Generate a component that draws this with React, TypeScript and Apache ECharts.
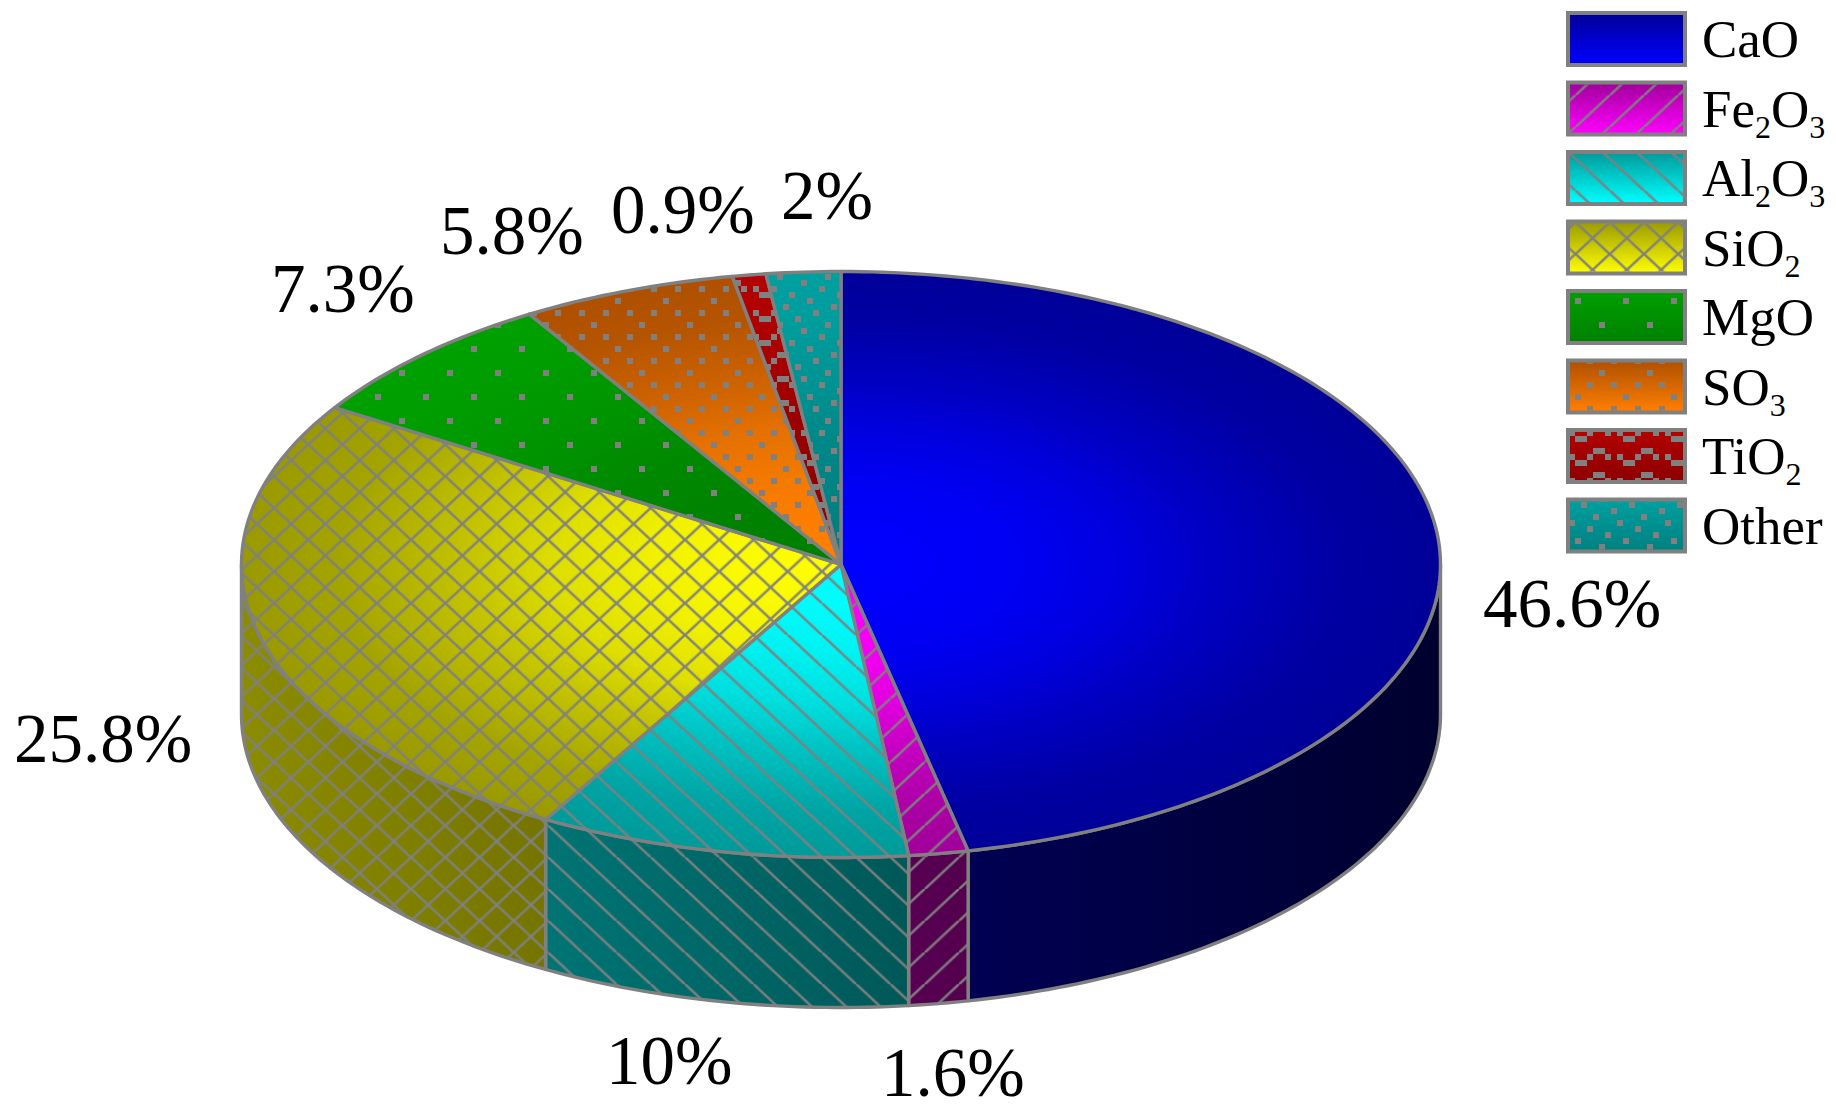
import React, { useEffect, useRef } from "react";
import * as echarts from "echarts";

const CATEGORIES = ["CaO", "Fe2O3", "Al2O3", "SiO2", "MgO", "SO3", "TiO2", "Other"];
const VALUES = [46.6, 1.6, 10, 25.8, 7.3, 5.8, 0.9, 2];
const RICH_NAMES = ["{m|CaO}", "{m|Fe}{s|2}{m|O}{s|3}", "{m|Al}{s|2}{m|O}{s|3}", "{m|SiO}{s|2}", "{m|MgO}", "{m|SO}{s|3}", "{m|TiO}{s|2}", "{m|Other}"];
const CENTER_COLORS = ["#0000ff", "#ff00ff", "#00ffff", "#ffff00", "#008000", "#ff8000", "#8c0000", "#008080"];
const EDGE_COLORS = ["#000098", "#a0009a", "#009a9a", "#9a9a00", "#00a000", "#ae5000", "#b40000", "#00a0a0"];
const SIDE_LEFT = ["#00008c", "#8c0088", "#008c8c", "#8c8c00", "#006000", "#804000", "#600000", "#005050"];
const SIDE_RIGHT = ["#00002e", "#2e0028", "#002e2e", "#2e2e00", "#004000", "#603000", "#400000", "#003c3c"];
const PATTERNS = ["none", "fwd", "back", "cross", "sparse", "medium", "tio", "dense"];

const W = 1836, H = 1117;
const CX = 841, CY = 564.5, RX = 599.5, RY = 293, DEPTH = 150;
const GRAY = "#808080";
const FONT = '"Liberation Serif", "Times New Roman", serif';
const LABEL_SIZE = 69;
const LABEL_ANCHORS: [number, number][] = [
  [1483, 626], [881, 1095], [606, 1083], [14, 761], [271, 311], [440, 253], [611, 232], [781, 218],
];
const LEG_X = 1568, LEG_Y = 13, LEG_W = 117, LEG_H = 52, LEG_STEP = 69.5;
const FADE_STOPS: [number, number][] = [[0, 1], [0.15, 0.96], [0.3, 0.87], [0.47, 0.68], [0.62, 0.42], [0.84, 0.1], [1, 0]];
const PIE_OFFSETS: [number, number][] = [[0, 0], [13.8, 0], [4.6, 0], [3, 24.5], [0, 0], [0, 0], [0, 0], [0, 0]];
const SWATCH_OFFSETS: [number, number][] = [[0, 0], [11, 0], [32.2, 0], [7.9, 15.4], [0, 0], [0, 0], [0, 0], [0, 0]];

const HW = 34.25, HH = 31.75, SS = 4;
function makeTile(kind: string) {
  const c = document.createElement("canvas");
  const hatch = kind === "fwd" || kind === "back" || kind === "cross";
  const w = hatch ? HW : 48;
  const h = hatch ? HH : kind === "tio" ? 24 : 48;
  const s = hatch ? SS : 1;
  c.width = w * s; c.height = h * s;
  const g = c.getContext("2d")!;
  g.scale(s, s);
  g.strokeStyle = GRAY; g.fillStyle = GRAY; g.lineWidth = 2.4;
  const seg = (x1: number, y1: number, x2: number, y2: number) => {
    for (const dx of [-w, 0, w]) {
      g.beginPath(); g.moveTo(x1 + dx, y1); g.lineTo(x2 + dx, y2); g.stroke();
    }
  };
  const dot = (x: number, y: number, dw = 6, dh = 6) => {
    for (const dx of [-w, 0, w]) for (const dy of [-h, 0, h]) g.fillRect(x - dw / 2 + dx, y - dh / 2 + dy, dw, dh);
  };
  if (kind === "fwd" || kind === "cross") seg(0, h, w, 0);
  if (kind === "back" || kind === "cross") seg(0, 0, w, h);
  if (kind === "sparse") { dot(18, 37); dot(42, 13); }
  if (kind === "medium") {
    dot(6, 25); dot(30, 25); dot(18, 37); dot(6, 1); dot(30, 1); dot(42, 13);
  }
  if (kind === "tio") {
    dot(36, 1); dot(6, 1); dot(24, 1); dot(45, 7, 12, 6); dot(15, 19, 12, 6);
  }
  if (kind === "dense") {
    dot(12, 37); dot(36, 43); dot(6, 1); dot(24, 7); dot(42, 13); dot(18, 19); dot(0, 25); dot(30, 31);
  }
  return { image: c, w, h };
}

function patternFill(kind: string, offset: [number, number]): any {
  const t = makeTile(kind);
  return { image: t.image, repeat: "repeat", imageWidth: t.w, imageHeight: t.h, x: offset[0], y: offset[1] };
}

function mixHex(a: string, b: string, f: number) {
  const ch = (h: string, k: number) => parseInt(h.slice(1 + k * 2, 3 + k * 2), 16);
  const v = [0, 1, 2].map((k) => Math.round(ch(b, k) + (ch(a, k) - ch(b, k)) * f));
  return `rgb(${v[0]},${v[1]},${v[2]})`;
}

const TOTAL = VALUES.reduce((a, b) => a + b, 0);
const angleAt = (i: number) => (VALUES.slice(0, i).reduce((a, b) => a + b, 0) / TOTAL) * Math.PI * 2;
const px = (t: number) => CX + RX * Math.sin(t);
const py = (t: number) => CY - RY * Math.cos(t);

function arcPoints(a: number, b: number, dy = 0): number[][] {
  const n = Math.max(2, Math.ceil(Math.abs(b - a) / (Math.PI / 180)));
  const pts: number[][] = [];
  for (let k = 0; k <= n; k++) {
    const t = a + ((b - a) * k) / n;
    pts.push([px(t), py(t) + dy]);
  }
  return pts;
}

function makeRender(i: number) {
  const fill = PATTERNS[i] === "none" ? null : patternFill(PATTERNS[i], PIE_OFFSETS[i]);
  const swatchFill = PATTERNS[i] === "none" ? null : patternFill(PATTERNS[i], SWATCH_OFFSETS[i]);
  const outline = { fill: "none", stroke: GRAY, lineWidth: 3.4, lineJoin: "round" };
  return (_p: any, api: any) => {
    const children: any[] = [];
    const a = angleAt(i);
    const b = a + (api.value(0) / TOTAL) * Math.PI * 2;
    const sideA = Math.max(a, Math.PI / 2), sideB = Math.min(b, Math.PI * 1.5);
    if (sideB > sideA) {
      const pts = arcPoints(sideA, sideB).concat(arcPoints(sideB, sideA, DEPTH));
      children.push({
        type: "polygon", shape: { points: pts },
        style: {
          fill: {
            type: "linear", x: CX - RX, y: 0, x2: CX + RX, y2: 0, global: true,
            colorStops: [{ offset: 0, color: SIDE_LEFT[i] }, { offset: 1, color: SIDE_RIGHT[i] }],
          },
        },
      });
      if (fill) children.push({ type: "polygon", shape: { points: pts }, style: { fill } });
      children.push({ type: "polygon", shape: { points: pts }, style: outline });
    }
    children.push({
      type: "sector", x: CX, y: CY, scaleY: RY / RX,
      shape: { cx: 0, cy: 0, r: RX, r0: 0, startAngle: a - Math.PI / 2, endAngle: b - Math.PI / 2, clockwise: true },
      style: {
        fill: {
          type: "radial", x: 0, y: 0, r: RX, global: true,
          colorStops: FADE_STOPS.map(([offset, f]) => ({ offset, color: mixHex(CENTER_COLORS[i], EDGE_COLORS[i], f) })),
        },
      },
    });
    const wedge = [[CX, CY]].concat(arcPoints(a, b));
    if (fill) children.push({ type: "polygon", shape: { points: wedge }, style: { fill } });
    children.push({ type: "polygon", shape: { points: wedge }, style: outline });
    if (swatchFill) {
      children.push({
        type: "rect", shape: { x: LEG_X + 2, y: LEG_Y + i * LEG_STEP + 2, width: LEG_W - 4, height: LEG_H - 4 },
        style: { fill: swatchFill },
      });
    }
    children.push({
      type: "text",
      style: {
        text: `${api.value(0)}%`, x: LABEL_ANCHORS[i][0], y: LABEL_ANCHORS[i][1] + 12.5,
        align: "left", verticalAlign: "bottom", fontFamily: FONT, fontSize: LABEL_SIZE, fill: "#000",
      },
    });
    return { type: "group", children };
  };
}

export default function App() {
  const ref = useRef<HTMLDivElement>(null);
  useEffect(() => {
    document.body.style.margin = "0";
    const chart = echarts.init(ref.current!, null, { renderer: "svg" });
    chart.setOption({
      animation: false,
      backgroundColor: "#fff",
      legend: CATEGORIES.map((name, i) => ({
        orient: "vertical", left: LEG_X - 2, top: LEG_Y - 2 + i * LEG_STEP, itemWidth: LEG_W, itemHeight: LEG_H,
        selectedMode: false, padding: 0,
        data: [{
          name, icon: "rect",
          itemStyle: {
            borderColor: GRAY, borderWidth: 4, borderType: "solid",
            color: {
              type: "linear", x: 0, y: 0, x2: 0, y2: 1,
              colorStops: [{ offset: 0, color: EDGE_COLORS[i] }, { offset: 1, color: CENTER_COLORS[i] }],
            },
          },
        }],
        formatter: () => RICH_NAMES[i],
        textStyle: {
          padding: [0, 0, 0, 12],
          rich: {
            m: { fontFamily: FONT, fontSize: 53, lineHeight: 44, color: "#000" },
            s: { fontFamily: FONT, fontSize: 32, lineHeight: 11, padding: [18, 0, -18, 0], color: "#000" },
          },
        },
      })),
      series: CATEGORIES.map((name, i) => ({
        type: "custom", name, coordinateSystem: "none", z: 6, silent: true,
        data: [[VALUES[i]]],
        renderItem: makeRender(i),
      })),
    });
    return () => chart.dispose();
  }, []);
  return <div ref={ref} style={{ width: W, height: H, position: "absolute", left: 0, top: 0 }} />;
}
